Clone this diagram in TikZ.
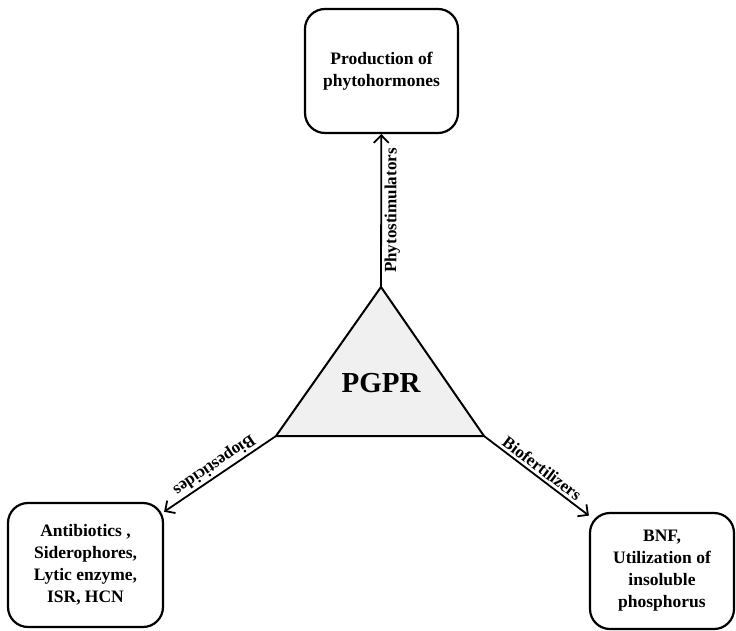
\documentclass[tikz,border=0pt]{standalone}
\usepackage{fontspec}
\setmainfont{Liberation Serif}
\usetikzlibrary{arrows.meta}

\tikzset{
  infobox/.style={draw, line width=2.2pt, rounded corners=20pt, align=center,
    font=\fontsize{17.5}{22}\selectfont\bfseries, inner sep=0pt},
  link/.style={line width=1.8pt, -{Straight Barb[length=7.5pt,width=15pt,line width=1.8pt]}},
  linklabel/.style={font=\fontsize{17}{19}\selectfont\bfseries, inner sep=2.5pt}
}

\begin{document}
\begin{tikzpicture}[x=1pt, y=-1pt]
  \useasboundingbox (0,0) rectangle (736,631);

  % central triangle
  \coordinate (apex) at (381,287);
  \coordinate (left) at (276,436);
  \coordinate (right) at (484,436);
  \draw[line width=2pt, fill=black!6, line join=miter] (apex) -- (left) -- (right) -- cycle;
  \node[font=\fontsize{29}{31}\selectfont\bfseries] (pgpr) at (381,383) {PGPR};

  % outcome boxes
  \node[infobox, minimum width=153pt, minimum height=124pt] (top) at (381.5,71)
    {Production of\\phytohormones};
  \node[infobox, minimum width=155pt, minimum height=124pt] (lb) at (85.5,565)
    {Antibiotics ,\\Siderophores,\\Lytic enzyme,\\ISR, HCN};
  \node[infobox, minimum width=144pt, minimum height=116pt] (rb) at (662,571)
    {BNF,\\Utilization of\\insoluble\\phosphorus};

  % connectors
  \draw[link] (apex) -- node[midway, sloped, below, linklabel] {Phytostimulators} (top);
  \draw[link] (left) -- node[midway, sloped, allow upside down, below, linklabel] {Biopesticides} (lb);
  \draw[link] (right) -- node[midway, sloped, above, linklabel] {Biofertilizers} (rb);
\end{tikzpicture}
\end{document}
